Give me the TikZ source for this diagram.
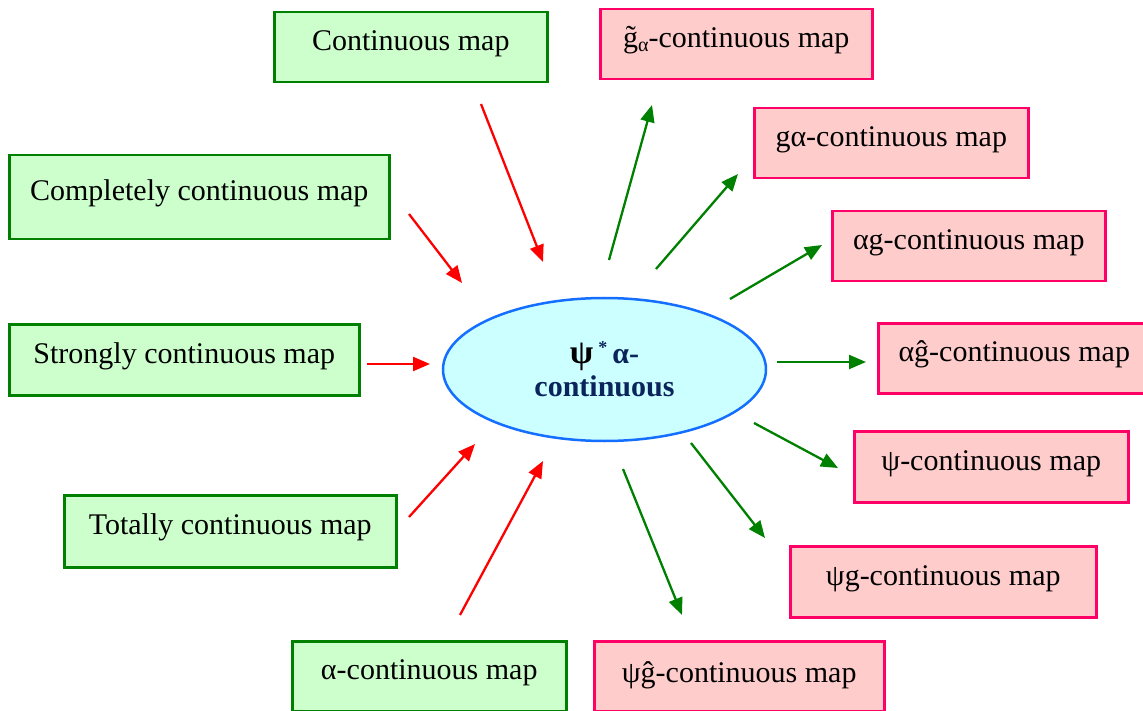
\documentclass[tikz,border=0pt]{standalone}
\usepackage{fontspec}
\setmainfont{Liberation Serif}
\usetikzlibrary{arrows.meta,shapes.geometric}
\definecolor{gfill}{RGB}{204,255,204}
\definecolor{gline}{RGB}{0,128,0}
\definecolor{pfill}{RGB}{255,204,204}
\definecolor{pline}{RGB}{255,0,102}
\definecolor{efill}{RGB}{204,255,255}
\definecolor{eline}{RGB}{20,110,255}
\definecolor{navy}{RGB}{12,36,92}
\definecolor{ared}{RGB}{255,0,0}
\definecolor{agreen}{RGB}{0,128,0}
\tikzset{
  mapbox/.style={draw, line width=2.5pt, inner xsep=0pt, inner ysep=10pt,
    text height=28pt, text depth=22pt, anchor=north west, align=center,
    font=\fontsize{30}{34}\selectfont},
  gbox/.style={mapbox, draw=gline, fill=gfill},
  pbox/.style={mapbox, draw=pline, fill=pfill},
  inarrow/.style={draw=ared, line width=2.3pt, -{Triangle[length=17pt,width=14pt]}},
  outarrow/.style={draw=agreen, line width=2.3pt, -{Triangle[length=17pt,width=14pt]}},
}
\begin{document}
\begin{tikzpicture}[x=1pt,y=-1pt]
\useasboundingbox (0,0) rectangle (1143,711);
% centre
\node[ellipse, draw=eline, fill=efill, line width=2.5pt, minimum width=323pt, minimum height=143pt,
  align=center, text=navy, font=\bfseries\fontsize{30}{33}\selectfont] (c) at (604.5,369.5)
  {{\color{black}\fontsize{34}{33}\selectfont ψ}\,\raisebox{10pt}{\fontsize{18}{18}\selectfont *}\,α-\\continuous};
% green boxes
\node[gbox, minimum width=273pt] (cm) at (273,11) {Continuous map};
\node[gbox, minimum width=380pt, text height=35pt, text depth=29pt] (ccm) at (8,154) {Completely continuous map};
\node[gbox, minimum width=350pt, text height=29pt] (scm) at (8,323) {Strongly continuous map};
\node[gbox, minimum width=332pt, text height=29pt, text depth=23pt] (tcm) at (63,494) {Totally continuous map};
\node[gbox, minimum width=274pt] (acm) at (291,640) {α-continuous map};
% pink boxes
\node[pbox, minimum width=272pt] (gt) at (599,8) {\~{g}\raisebox{-4pt}{\fontsize{20}{20}\selectfont α}-continuous map};
\node[pbox, minimum width=274pt] (ga) at (753,107) {gα-continuous map};
\node[pbox, minimum width=273pt] (ag) at (831,210) {αg-continuous map};
\node[pbox, minimum width=272pt] (ah) at (877,322) {αĝ-continuous map};
\node[pbox, minimum width=274pt, text height=29pt] (psi) at (853,430) {ψ-continuous map};
\node[pbox, minimum width=306pt, text height=29pt] (psig) at (789,545) {ψg-continuous map};
\node[pbox, minimum width=290pt, text height=31pt, text depth=19pt] (psih) at (593,640) {ψĝ-continuous map};
% arrow end points
\coordinate (r1s) at (481,104); \coordinate (r1e) at (543,262);
\coordinate (r2s) at (409,214); \coordinate (r2e) at (462,283);
\coordinate (r3s) at (367,364); \coordinate (r3e) at (430,364);
\coordinate (r4s) at (409,517); \coordinate (r4e) at (475,444);
\coordinate (r5s) at (460,615); \coordinate (r5e) at (543,461);
\coordinate (g1s) at (609,260); \coordinate (g1e) at (652,105);
\coordinate (g2s) at (656,269); \coordinate (g2e) at (738,174);
\coordinate (g3s) at (730,299); \coordinate (g3e) at (822,245);
\coordinate (g4s) at (777,362); \coordinate (g4e) at (866,362);
\coordinate (g5s) at (754,423); \coordinate (g5e) at (838,468);
\coordinate (g6s) at (691,443); \coordinate (g6e) at (765,538);
\coordinate (g7s) at (623,469); \coordinate (g7e) at (682,615);
% arrows
\draw[inarrow] (r1s) -- (r1e);
\draw[inarrow] (r2s) -- (r2e);
\draw[inarrow] (r3s) -- (r3e);
\draw[inarrow] (r4s) -- (r4e);
\draw[inarrow] (r5s) -- (r5e);
\draw[outarrow] (g1s) -- (g1e);
\draw[outarrow] (g2s) -- (g2e);
\draw[outarrow] (g3s) -- (g3e);
\draw[outarrow] (g4s) -- (g4e);
\draw[outarrow] (g5s) -- (g5e);
\draw[outarrow] (g6s) -- (g6e);
\draw[outarrow] (g7s) -- (g7e);
\end{tikzpicture}
\end{document}
